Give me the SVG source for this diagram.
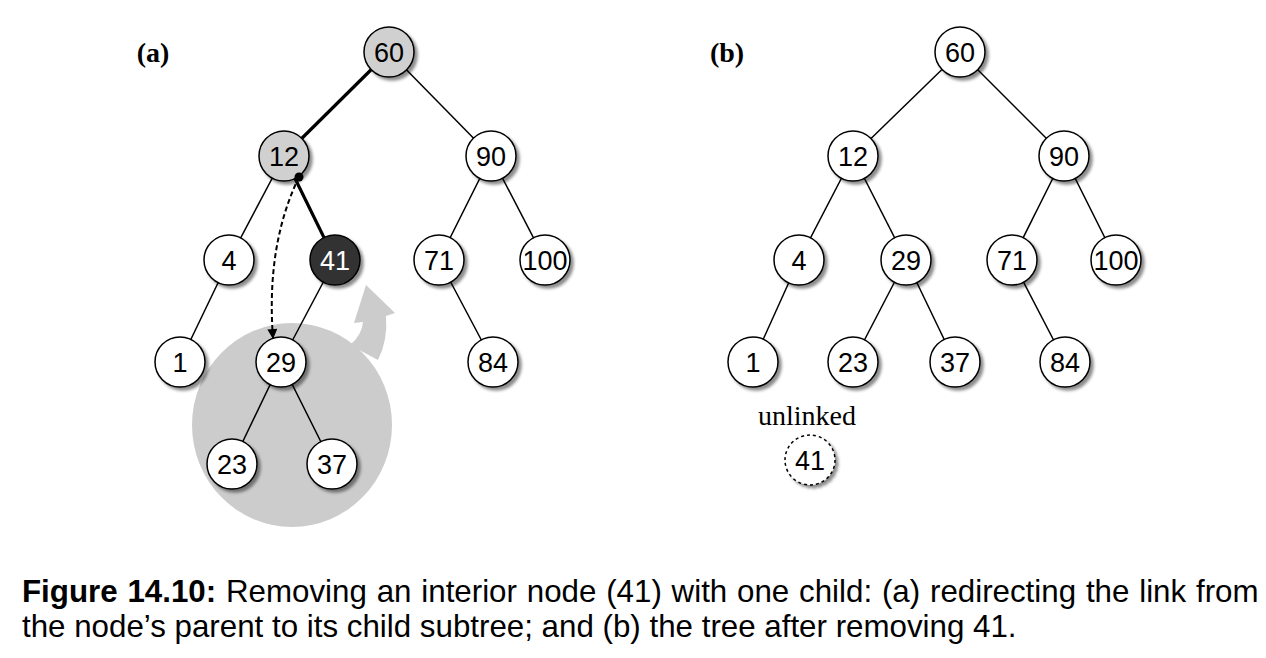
<svg xmlns="http://www.w3.org/2000/svg" width="1266" height="658" viewBox="0 0 1266 658">
<defs>
<filter id="sh" x="-30%" y="-30%" width="160%" height="160%">
<feDropShadow dx="3" dy="3" stdDeviation="1.5" flood-color="#000" flood-opacity="0.45"/>
</filter>
<marker id="ah" viewBox="0 0 10 10" refX="9" refY="5" markerWidth="12" markerHeight="10" orient="auto" markerUnits="userSpaceOnUse">
<path d="M0,0 L10,5 L0,10 Z" fill="#000"/>
</marker>
</defs>
<style>
.n circle{fill:#fff;stroke:#000;stroke-width:1.5;filter:url(#sh)}
.n text{font-family:"Liberation Sans",Arial,sans-serif;font-size:27px;text-anchor:middle;fill:#000}
.g circle{fill:#d0d0d0}
.d circle{fill:#333}
.d text{fill:#fff}
.u circle{stroke-dasharray:3,3}
.e line{stroke:#000;stroke-width:1.5}
.e line.t{stroke-width:3.2}
.lbl{font-family:"Liberation Serif","Times New Roman",serif;font-size:28px;text-anchor:middle}
.cap{font-family:"Liberation Sans",Arial,sans-serif;font-size:31.3px}
</style>
<rect width="1266" height="658" fill="#fff"/>
<text class="lbl" x="153" y="62" font-weight="bold">(a)</text>
<text class="lbl" x="727" y="62" font-weight="bold">(b)</text>
<g id="blob">
<ellipse cx="292" cy="425" rx="100" ry="102" fill="#cccccc"/>
<path d="M366,285 L395,313 L386,316 Q388,340 378,360 L350,345 Q362,335 363,322 L354,323 Z" fill="#cccccc"/>
</g>
<g id="connectors" class="e">
<line class="t" x1="389" y1="52" x2="284" y2="156"/>
<line x1="389" y1="52" x2="491" y2="156"/>
<line x1="284" y1="156" x2="229" y2="260"/>
<line class="t" x1="284" y1="156" x2="335" y2="260"/>
<line x1="491" y1="156" x2="439" y2="260"/>
<line x1="491" y1="156" x2="545" y2="260"/>
<line x1="229" y1="260" x2="180" y2="362"/>
<line x1="335" y1="260" x2="281" y2="362"/>
<line x1="439" y1="260" x2="493" y2="362"/>
<line x1="281" y1="362" x2="232" y2="464"/>
<line x1="281" y1="362" x2="332" y2="464"/>
<line x1="960" y1="52" x2="853" y2="156"/>
<line x1="960" y1="52" x2="1064" y2="156"/>
<line x1="853" y1="156" x2="799" y2="260"/>
<line x1="853" y1="156" x2="906" y2="260"/>
<line x1="1064" y1="156" x2="1012" y2="260"/>
<line x1="1064" y1="156" x2="1116" y2="260"/>
<line x1="799" y1="260" x2="753" y2="362"/>
<line x1="906" y1="260" x2="853" y2="362"/>
<line x1="906" y1="260" x2="955" y2="362"/>
<line x1="1012" y1="260" x2="1065" y2="362"/>
</g>
<g id="a60" class="n g"><circle cx="389" cy="52" r="25"/><text x="389" y="62">60</text></g>
<g id="a12" class="n g"><circle cx="284" cy="156" r="25"/><text x="284" y="166">12</text></g>
<g id="a90" class="n"><circle cx="491" cy="156" r="25"/><text x="491" y="166">90</text></g>
<g id="a4" class="n"><circle cx="229" cy="260" r="25"/><text x="229" y="270">4</text></g>
<g id="a41" class="n d"><circle cx="335" cy="260" r="25"/><text x="335" y="270">41</text></g>
<g id="a71" class="n"><circle cx="439" cy="260" r="25"/><text x="439" y="270">71</text></g>
<g id="a100" class="n"><circle cx="545" cy="260" r="25"/><text x="545" y="270">100</text></g>
<g id="a1" class="n"><circle cx="180" cy="362" r="25"/><text x="180" y="372">1</text></g>
<g id="a29" class="n"><circle cx="281" cy="362" r="25"/><text x="281" y="372">29</text></g>
<g id="a84" class="n"><circle cx="493" cy="362" r="25"/><text x="493" y="372">84</text></g>
<g id="a23" class="n"><circle cx="232" cy="464" r="25"/><text x="232" y="474">23</text></g>
<g id="a37" class="n"><circle cx="332" cy="464" r="25"/><text x="332" y="474">37</text></g>
<g id="redirect">
<path d="M299,177 Q266,245 273,338" fill="none" stroke="#000" stroke-width="2" stroke-dasharray="5,3" marker-end="url(#ah)"/>
<circle cx="299" cy="177" r="4.5" fill="#000"/>
</g>
<g id="b60" class="n"><circle cx="960" cy="52" r="25"/><text x="960" y="62">60</text></g>
<g id="b12" class="n"><circle cx="853" cy="156" r="25"/><text x="853" y="166">12</text></g>
<g id="b90" class="n"><circle cx="1064" cy="156" r="25"/><text x="1064" y="166">90</text></g>
<g id="b4" class="n"><circle cx="799" cy="260" r="25"/><text x="799" y="270">4</text></g>
<g id="b29" class="n"><circle cx="906" cy="260" r="25"/><text x="906" y="270">29</text></g>
<g id="b71" class="n"><circle cx="1012" cy="260" r="25"/><text x="1012" y="270">71</text></g>
<g id="b100" class="n"><circle cx="1116" cy="260" r="25"/><text x="1116" y="270">100</text></g>
<g id="b1" class="n"><circle cx="753" cy="362" r="25"/><text x="753" y="372">1</text></g>
<g id="b23" class="n"><circle cx="853" cy="362" r="25"/><text x="853" y="372">23</text></g>
<g id="b37" class="n"><circle cx="955" cy="362" r="25"/><text x="955" y="372">37</text></g>
<g id="b84" class="n"><circle cx="1065" cy="362" r="25"/><text x="1065" y="372">84</text></g>
<g id="b41" class="n u"><text x="807" y="425" style="font-family:'Liberation Serif','Times New Roman',serif;font-size:28px">unlinked</text><circle cx="810" cy="460" r="25"/><text x="810" y="470">41</text></g>
<text class="cap" x="22" y="602" word-spacing="1.1"><tspan font-weight="bold">Figure 14.10:</tspan> Removing an interior node (41) with one child: (a) redirecting the link from</text>
<text class="cap" x="22" y="637">the node’s parent to its child subtree; and (b) the tree after removing 41.</text>
</svg>
